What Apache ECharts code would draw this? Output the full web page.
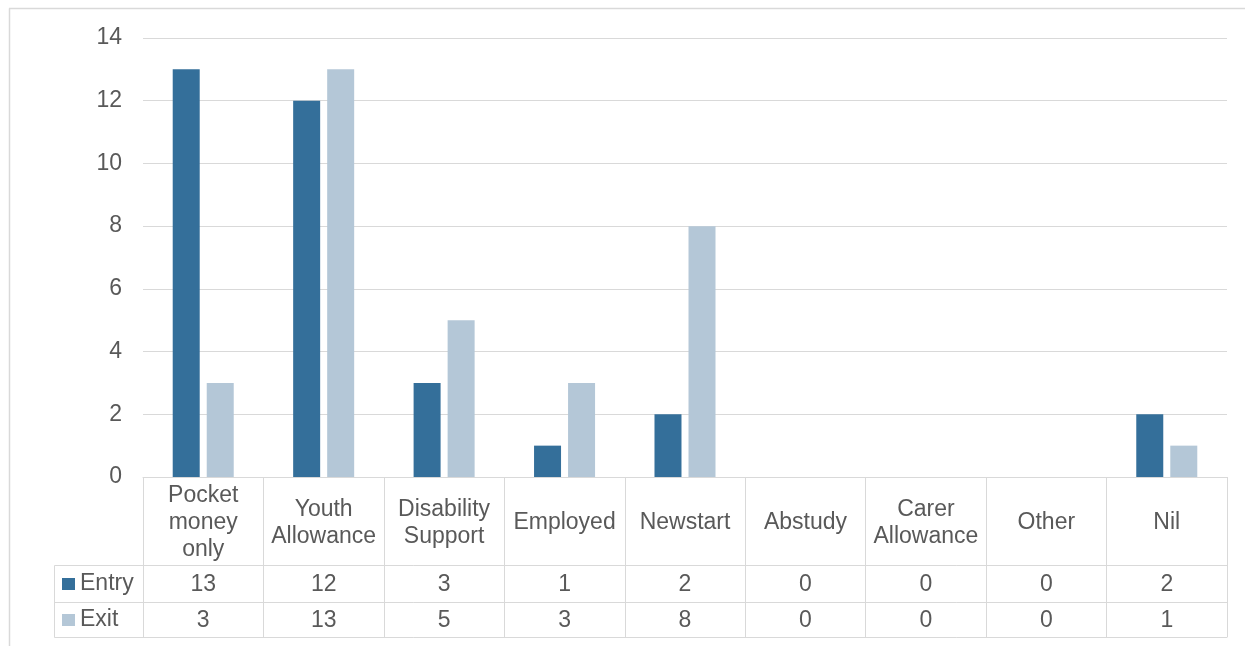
<!DOCTYPE html>
<html>
<head>
<meta charset="utf-8">
<script src="https://cdn.jsdelivr.net/npm/echarts@6/dist/echarts.min.js"></script>
<style>
  html, body { margin: 0; padding: 0; background: #fff; }
  #chart { width: 1245px; height: 646px; }
</style>
</head>
<body>
<div id="chart"></div>
<script>
// Income source on entry and exit
const categories = ['Pocket\nmoney\nonly', 'Youth\nAllowance', 'Disability\nSupport', 'Employed', 'Newstart', 'Abstudy', 'Carer\nAllowance', 'Other', 'Nil'];
const entryValues = [13, 12, 3, 1, 2, 0, 0, 0, 2];
const exitValues = [3, 13, 5, 3, 8, 0, 0, 0, 1];
const seriesNames = ['Entry', 'Exit'];
const yTicks = { min: 0, max: 14, interval: 2 };

const TEXT = '#595959';
const RULE = '#d9d9d9';
const FONT = 'Liberation Sans, Arial, sans-serif';
const FS = 23;

const chart = echarts.init(document.getElementById('chart'), null, { renderer: 'canvas' });

// Layout of the plot and the data table below it
const gridLeft = 143, gridRight = 18, gridTop = 38, gridBottom = 169;
const headerH = 88, row1H = 37, row2H = 35;

function tableAxis(offset, tickLen, labels, margin, showLabel) {
  return {
    type: 'category',
    data: categories,
    position: 'bottom',
    offset: offset,
    gridIndex: 0,
    axisLine: { show: true, lineStyle: { color: RULE, width: 1 } },
    axisTick: { show: tickLen > 0, interval: 0, length: tickLen, lineStyle: { color: RULE, width: 1 } },
    axisLabel: {
      show: showLabel,
      interval: 0,
      margin: margin,
      verticalAlign: 'middle',
      color: TEXT,
      fontFamily: FONT,
      fontSize: FS,
      lineHeight: 27,
      hideOverlap: false,
      formatter: labels ? (v, i) => String(labels[i]) : (v) => v
    },
    splitLine: { show: false }
  };
}

const option = {
  animation: false,
  backgroundColor: '#fff',
  textStyle: { fontFamily: FONT },
  grid: { left: gridLeft, right: gridRight, top: gridTop, bottom: gridBottom, containLabel: false },
  legend: {
    data: seriesNames,
    orient: 'vertical',
    left: 57,
    top: 567,
    itemWidth: 13,
    itemHeight: 12,
    itemGap: 12,
    icon: 'rect',
    selectedMode: false,
    textStyle: { color: TEXT, fontFamily: FONT, fontSize: FS, lineHeight: 24, padding: [0, 0, 0, 0] }
  },
  xAxis: [
    tableAxis(0, headerH, null, headerH / 2 + 2, true),
    tableAxis(headerH, row1H, entryValues, row1H / 2 + 1.5, true),
    tableAxis(headerH + row1H, row2H, exitValues, row2H / 2 + 1.5, true),
    tableAxis(headerH + row1H + row2H, 0, null, 0, false)
  ],
  yAxis: {
    type: 'value',
    min: yTicks.min,
    max: yTicks.max,
    interval: yTicks.interval,
    axisLine: { show: false },
    axisTick: { show: false },
    axisLabel: { color: TEXT, fontFamily: FONT, fontSize: FS, margin: 21, padding: [4, 0, 0, 0] },
    splitLine: { lineStyle: { color: RULE, width: 1 } }
  },
  series: [
    {
      name: seriesNames[0],
      type: 'bar',
      xAxisIndex: 0,
      data: entryValues,
      barWidth: 27,
      barGap: '26%',
      itemStyle: { color: '#346f9a' }
    },
    {
      name: seriesNames[1],
      type: 'bar',
      xAxisIndex: 0,
      data: exitValues,
      barWidth: 27,
      barGap: '26%',
      itemStyle: { color: '#b4c7d7' }
    }
  ],
  graphic: [
    // chart frame
    { type: 'line', silent: true, shape: { x1: 9.5, y1: 8.5, x2: 9.5, y2: 646 }, style: { stroke: RULE, lineWidth: 1.5 } },
    { type: 'line', silent: true, shape: { x1: 9, y1: 8.5, x2: 1245, y2: 8.5 }, style: { stroke: RULE, lineWidth: 1.5 } },
    // row-header column of the data table
    { type: 'line', silent: true, shape: { x1: 54.5, y1: 565.5, x2: 143, y2: 565.5 }, style: { stroke: RULE, lineWidth: 1 } },
    { type: 'line', silent: true, shape: { x1: 54.5, y1: 602.5, x2: 143, y2: 602.5 }, style: { stroke: RULE, lineWidth: 1 } },
    { type: 'line', silent: true, shape: { x1: 54.5, y1: 637.5, x2: 143, y2: 637.5 }, style: { stroke: RULE, lineWidth: 1 } },
    { type: 'line', silent: true, shape: { x1: 54.5, y1: 565.5, x2: 54.5, y2: 637.5 }, style: { stroke: RULE, lineWidth: 1 } }
  ]
};

chart.setOption(option);
</script>
</body>
</html>
